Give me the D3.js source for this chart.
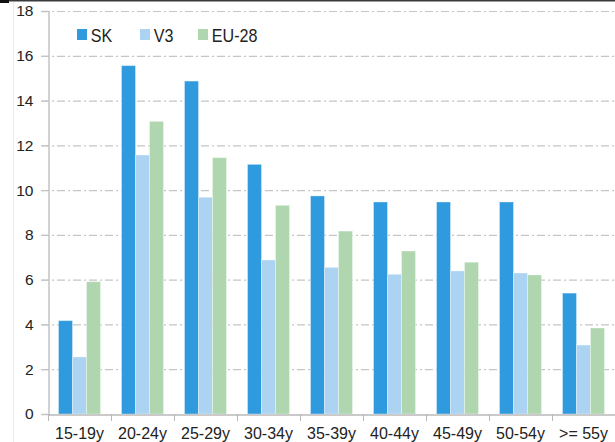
<!DOCTYPE html>
<html>
<head>
<meta charset="utf-8">
<script src="https://cdn.jsdelivr.net/npm/d3@7/dist/d3.min.js"></script>
<style>
  html, body { margin: 0; padding: 0; background: #fff; }
  svg { display: block; font-family: "Liberation Sans", Arial, sans-serif; }
</style>
</head>
<body>
<svg id="chart" width="615" height="442"></svg>
<script>
// Unemployment rate by age group.
var categories = ["15-19y", "20-24y", "25-29y", "30-34y", "35-39y", "40-44y", "45-49y", "50-54y", ">= 55y"];
var seriesNames = ["SK", "V3", "EU-28"];
var seriesColors = ["#2f9ade", "#acd3f2", "#afd6ae"];
var skValues = [4.17, 15.56, 14.87, 11.15, 9.74, 9.47, 9.47, 9.47, 5.40];
var v3Values = [2.55, 11.57, 9.68, 6.88, 6.55, 6.24, 6.39, 6.30, 3.08];
var euValues = [5.91, 13.07, 11.45, 9.32, 8.17, 7.28, 6.78, 6.21, 3.84];
var yTicks = [0, 2, 4, 6, 8, 10, 12, 14, 16, 18];

var series = [skValues, v3Values, euValues];
var svg = d3.select("#chart");

var x0 = d3.scaleBand().domain(categories).range([48, 615]);
var x1 = d3.scaleBand().domain(seriesNames)
  .range([x0.bandwidth() / 6, x0.bandwidth() * 5 / 6]);
var y = d3.scaleLinear().domain([0, 18]).range([414, 11]);

// frame bits of the cropped original
svg.append("line").attr("x1", 0).attr("x2", 615).attr("y1", 0.75).attr("y2", 0.75)
  .attr("stroke", "#3a3a3a").attr("stroke-width", 1.5);
svg.append("rect").attr("x", 0).attr("y", 0).attr("width", 9).attr("height", 3).attr("fill", "#111");
svg.append("line").attr("x1", 13.5).attr("x2", 13.5).attr("y1", 2).attr("y2", 442)
  .attr("stroke", "#ececec").attr("stroke-width", 1);

// gridlines
svg.append("g").selectAll("line").data(yTicks.filter(function (d) { return d > 0; }))
  .join("line")
  .attr("x1", 41).attr("x2", 615)
  .attr("y1", function (d) { return y(d) + 0.5; })
  .attr("y2", function (d) { return y(d) + 0.5; })
  .attr("stroke", "#c6c6c6").attr("stroke-width", 1.2)
  .attr("stroke-dasharray", "8,3,2,3");

// bars
var groups = svg.append("g").selectAll("g").data(categories).join("g")
  .attr("transform", function (d) { return "translate(" + x0(d) + ",0)"; });
groups.selectAll("rect")
  .data(function (c, i) { return seriesNames.map(function (s, k) { return { s: s, k: k, v: series[k][i] }; }); })
  .join("rect")
  .attr("x", function (d) { return x1(d.s); })
  .attr("width", x1.bandwidth())
  .attr("y", function (d) { return y(d.v); })
  .attr("height", function (d) { return y(0) - y(d.v); })
  .attr("fill", function (d) { return seriesColors[d.k]; })
  .attr("stroke", "rgba(255,255,255,0.35)").attr("stroke-width", 1);

// y axis
var yAxis = svg.append("g").attr("transform", "translate(48.5,0)")
  .call(d3.axisLeft(y).tickValues(yTicks).tickSize(7).tickPadding(8));
yAxis.select(".domain").attr("stroke", "#c3c3c3").attr("stroke-width", 1.5);
yAxis.selectAll(".tick line").attr("stroke", "#c3c3c3");
yAxis.selectAll(".tick text").attr("fill", "#222").attr("font-size", 15.5)
  .attr("font-family", "Liberation Sans, Arial, sans-serif");

// x axis
var xAxis = svg.append("g").attr("transform", "translate(0," + (y(0) + 0.5) + ")")
  .call(d3.axisBottom(x0).tickSize(0).tickPadding(0));
xAxis.select(".domain").attr("stroke", "#b8b8b8").attr("stroke-width", 1.5);
xAxis.selectAll(".tick text").attr("fill", "#222").attr("font-size", 16)
  .attr("font-family", "Liberation Sans, Arial, sans-serif")
  .attr("dy", null).attr("y", 24);
svg.append("g").selectAll("line").data(categories).join("line")
  .attr("x1", function (d) { return Math.round(x0(d)) + 0.5; })
  .attr("x2", function (d) { return Math.round(x0(d)) + 0.5; })
  .attr("y1", y(0)).attr("y2", y(0) + 7)
  .attr("stroke", "#b8b8b8").attr("stroke-width", 1);

// legend
var legendX = [77, 140, 198];
var legend = svg.append("g").selectAll("g").data(seriesNames).join("g")
  .attr("transform", function (d, i) { return "translate(" + legendX[i] + ",29)"; });
legend.append("rect").attr("width", 10).attr("height", 11)
  .attr("fill", function (d, i) { return seriesColors[i]; });
legend.append("text").attr("x", 15).attr("y", 12.5)
  .attr("font-size", 17.5).attr("fill", "#222")
  .attr("transform", "scale(0.92,1)")
  .text(function (d) { return d; });
</script>
</body>
</html>
